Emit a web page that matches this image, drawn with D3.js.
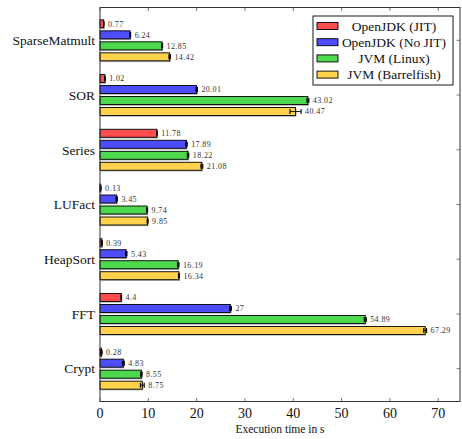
<!DOCTYPE html>
<html>
<head>
<meta charset="utf-8">
<script src="https://cdn.jsdelivr.net/npm/d3@7"></script>
<style>
  body { margin: 0; background: #fff; }
  text { font-family: "Liberation Serif", "DejaVu Serif", serif; fill: #111; }
</style>
</head>
<body>
<script>
// benchmarks, top to bottom
var benchmarks = ["SparseMatmult", "SOR", "Series", "LUFact", "HeapSort", "FFT", "Crypt"];
var seriesNames = ["OpenJDK (JIT)", "OpenJDK (No JIT)", "JVM (Linux)", "JVM (Barrelfish)"];
var seriesColors = ["#ff4d4d", "#4d4dff", "#4dd94d", "#ffd24d"];

var jit       = [0.77, 1.02, 11.78, 0.13, 0.39, 4.4, 0.28];
var noJit     = [6.24, 20.01, 17.89, 3.45, 5.43, 27, 4.83];
var linux     = [12.85, 43.02, 18.22, 9.74, 16.19, 54.89, 8.55];
var barrelfish= [14.42, 40.47, 21.08, 9.85, 16.34, 67.29, 8.75];

// estimated error bar half widths
var jitErr        = [0.05, 0.05, 0.05, 0.1, 0.05, 0.05, 0.15];
var noJitErr      = [0.1, 0.15, 0.15, 0.15, 0.15, 0.2, 0.2];
var linuxErr      = [0.1, 0.2, 0.15, 0.1, 0.15, 0.2, 0.15];
var barrelfishErr = [0.15, 1.15, 0.2, 0.1, 0.1, 0.3, 0.4];

var labels = [
  ["0.77","1.02","11.78","0.13","0.39","4.4","0.28"],
  ["6.24","20.01","17.89","3.45","5.43","27","4.83"],
  ["12.85","43.02","18.22","9.74","16.19","54.89","8.55"],
  ["14.42","40.47","21.08","9.85","16.34","67.29","8.75"]
];
var xTicks = [0, 10, 20, 30, 40, 50, 60, 70];

var values = [jit, noJit, linux, barrelfish];
var errors = [jitErr, noJitErr, linuxErr, barrelfishErr];

var width = 462, height = 439;
var pL = 100, pR = 460, pT = 7.5, pB = 401.5;

var svg = d3.select("body").append("svg")
    .attr("width", width)
    .attr("height", height);

var x = d3.scaleLinear().domain([0, 74.5]).range([pL, pR]);

var y = d3.scaleBand()
    .domain(benchmarks)
    .range([pT, pB])
    .paddingInner(0)
    .paddingOuter(0.1);

var barH = 8, barStep = 11;

var data = [];
benchmarks.forEach(function(b, i) {
  for (var s = 0; s < 4; s++) {
    data.push({b: b, s: s, v: values[s][i], e: errors[s][i], label: labels[s][i]});
  }
});

function barY(d) {
  var c = y(d.b) + y.bandwidth() / 2;
  return c + (d.s - 1.5) * barStep - barH / 2;
}

var g = svg.append("g");

// shadows
g.selectAll(".shadow").data(data).enter().append("rect")
    .attr("x", x(0) + 1)
    .attr("y", function(d) { return barY(d) + 1.2; })
    .attr("width", function(d) { return x(d.v) - x(0); })
    .attr("height", barH)
    .attr("fill", "#777")
    .attr("opacity", 0.6);

g.selectAll(".bar").data(data).enter().append("rect")
    .attr("x", x(0))
    .attr("y", barY)
    .attr("width", function(d) { return x(d.v) - x(0); })
    .attr("height", barH)
    .attr("fill", function(d) { return seriesColors[d.s]; })
    .attr("stroke", "#000")
    .attr("stroke-width", 0.9);

// error bars
var eb = g.selectAll(".err").data(data).enter().append("g");
eb.append("line")
    .attr("x1", function(d) { return x(d.v - d.e); })
    .attr("x2", function(d) { return x(d.v + d.e); })
    .attr("y1", function(d) { return barY(d) + barH / 2; })
    .attr("y2", function(d) { return barY(d) + barH / 2; })
    .attr("stroke", "#000").attr("stroke-width", 0.9);
eb.selectAll("line.cap").data(function(d) { return [[d, d.v - d.e], [d, d.v + d.e]]; })
  .enter().append("line")
    .attr("x1", function(p) { return x(p[1]); })
    .attr("x2", function(p) { return x(p[1]); })
    .attr("y1", function(p) { return barY(p[0]) + 1.5; })
    .attr("y2", function(p) { return barY(p[0]) + barH - 1.5; })
    .attr("stroke", "#000").attr("stroke-width", 1.1);

// value labels
g.selectAll(".val").data(data).enter().append("text")
    .attr("x", function(d) { return x(d.v + d.e) + 4; })
    .attr("y", function(d) { return barY(d) + barH / 2; })
    .attr("dy", "0.35em")
    .attr("font-size", 8)
    .attr("letter-spacing", 0.4)
    .style("fill", "#333")
    .text(function(d) { return d.label; });

// frame
svg.append("rect")
    .attr("x", pL).attr("y", pT)
    .attr("width", pR - pL).attr("height", pB - pT)
    .attr("fill", "none").attr("stroke", "#333").attr("stroke-width", 1);

// x ticks bottom and top (inside)
svg.selectAll(".xt").data(xTicks).enter().append("line")
    .attr("x1", function(d) { return x(d); }).attr("x2", function(d) { return x(d); })
    .attr("y1", pB).attr("y2", pB - 3.5)
    .attr("stroke", "#555").attr("stroke-width", 0.8);
svg.selectAll(".xt2").data(xTicks).enter().append("line")
    .attr("x1", function(d) { return x(d); }).attr("x2", function(d) { return x(d); })
    .attr("y1", pT).attr("y2", pT + 3.5)
    .attr("stroke", "#555").attr("stroke-width", 0.8);

svg.selectAll(".xl").data(xTicks).enter().append("text")
    .attr("x", function(d) { return x(d); })
    .attr("y", pB + 16)
    .attr("text-anchor", "middle")
    .attr("font-size", 14)
    .text(function(d) { return d; });

// y ticks right (inside)
svg.selectAll(".yt").data(benchmarks).enter().append("line")
    .attr("x1", pR).attr("x2", pR - 3.5)
    .attr("y1", function(d) { return y(d) + y.bandwidth() / 2; })
    .attr("y2", function(d) { return y(d) + y.bandwidth() / 2; })
    .attr("stroke", "#555").attr("stroke-width", 0.8);

svg.selectAll(".yl").data(benchmarks).enter().append("text")
    .attr("x", pL - 5)
    .attr("y", function(d) { return y(d) + y.bandwidth() / 2; })
    .attr("dy", "0.35em")
    .attr("text-anchor", "end")
    .attr("font-size", 13.5)
    .text(function(d) { return d; });

svg.append("text")
    .attr("x", (pL + pR) / 2)
    .attr("y", 433)
    .attr("text-anchor", "middle")
    .attr("font-size", 11.5)
    .text("Execution time in s");

// legend
var lg = svg.append("g").attr("transform", "translate(313,16)");
lg.append("rect")
    .attr("width", 140).attr("height", 69)
    .attr("fill", "#fff").attr("stroke", "#000").attr("stroke-width", 0.9);
var items = lg.selectAll(".li").data(seriesNames).enter().append("g")
    .attr("transform", function(d, i) { return "translate(0," + (10 + i * 16.2) + ")"; });
items.append("rect")
    .attr("x", 4).attr("y", -3.5).attr("width", 21).attr("height", 7)
    .attr("fill", function(d, i) { return seriesColors[i]; })
    .attr("stroke", "#000").attr("stroke-width", 0.9);
items.append("text")
    .attr("x", 81).attr("dy", "0.35em")
    .attr("text-anchor", "middle")
    .attr("font-size", 13.5)
    .text(function(d) { return d; });
</script>
</body>
</html>
